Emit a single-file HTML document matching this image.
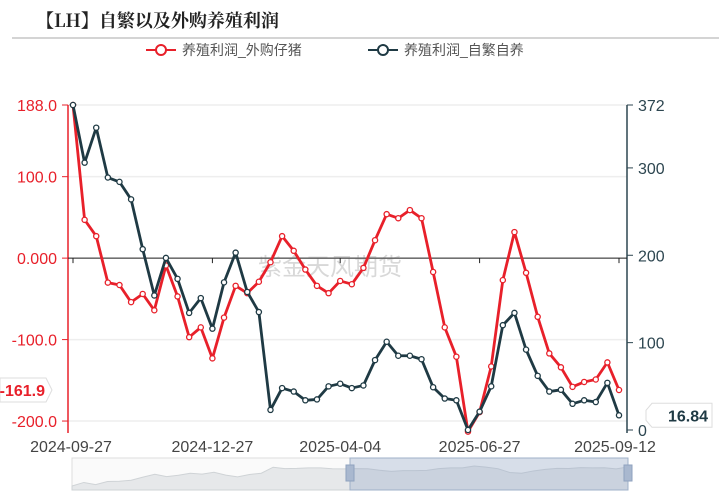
<!DOCTYPE html>
<html><head><meta charset="utf-8">
<style>
body{margin:0;background:#fff;width:719px;height:496px;overflow:hidden;font-family:"Liberation Sans","Noto Sans CJK SC",sans-serif;}
svg{position:absolute;left:0;top:0}
</style></head><body>
<svg id="c" width="719" height="496">
<text x="36" y="27" font-size="18" font-weight="bold" fill="#222" font-family="'Noto Serif CJK SC','Liberation Serif',serif">【LH】自繁以及外购养殖利润</text>
<line x1="12" y1="38" x2="719" y2="38" stroke="#bbb" stroke-width="1.2"/>
<g>
<line x1="146" y1="50" x2="176" y2="50" stroke="#e8202a" stroke-width="2"/><circle cx="161" cy="50" r="5" fill="#fff" stroke="#e8202a" stroke-width="2"/>
<text x="182" y="55" font-size="14" fill="#555">养殖利润_外购仔猪</text></g>
<g>
<line x1="368" y1="50" x2="398" y2="50" stroke="#1f3a44" stroke-width="2"/><circle cx="383" cy="50" r="5" fill="#fff" stroke="#1f3a44" stroke-width="2"/>
<text x="404" y="55" font-size="14" fill="#555">养殖利润_自繁自养</text></g>
<text x="258" y="275" font-size="24" fill="#d8d8d8">紫金天风期货</text>
<g id="g"></g>
</svg>
<script>
const categories=[];for(let i=0;i<48;i++)categories.push(i);
const tickLabels=["2024-09-27","2024-12-27","2025-04-04","2025-06-27","2025-09-12"];
const tickIdx=[0,12,23,35,47];
const leftTicks=[188,100,0,-100,-200];
const leftTickText=["188.0","100.0","0.000","-100.0","-200.0"];
const rightTicks=[372,300,200,100,0];
const redSeries=[188,47,27,-30,-33,-54,-44,-64,-9,-47,-97,-85,-123,-73,-34,-43,-29,-5,27,9,-14,-34,-43,-28,-32,-12,22,54,49,59,49,-17,-85,-121,-213,-189,-133,-27,32,-18,-72,-117,-134,-158,-152,-149,-128,-161.9];
const darkSeries=[372,306,346,289,284,264,207,154,197,173,134,151,116,169,203,158,135,23,48,44,34,35,50,53,48,51,80,101,85,85,81,49,36,34,0,21,50,120,134,92,62,44,46,30,34,32,54,16.84];
const X0=73,X1=619,TOP=105,BOT=430,LMIN=-211,LMAX=188,RMIN=0,RMAX=372;
const x=i=>X0+(X1-X0)*i/(categories.length-1);
const yl=v=>BOT-(v-LMIN)/(LMAX-LMIN)*(BOT-TOP);
const yr=v=>BOT-(v-RMIN)/(RMAX-RMIN)*(BOT-TOP);
const g=document.getElementById('g');const NS='http://www.w3.org/2000/svg';
function mk(t,a,p){const e=document.createElementNS(NS,t);for(const k in a)e.setAttribute(k,a[k]);(p||g).appendChild(e);return e;}
leftTicks.forEach((v,i)=>{
 const gl=mk('line',{x1:68,x2:627,y1:yl(v),y2:yl(v),stroke:'#eee','stroke-width':1.5});
 
 
 mk('line',{x1:62,x2:68,y1:yl(v),y2:yl(v),stroke:'#e8202a'});
 const t=mk('text',{x:57,y:yl(v)+6,'text-anchor':'end','font-size':16,fill:'#e8202a'});t.textContent=leftTickText[i];
 
 
});
rightTicks.forEach(v=>{
 mk('line',{x1:627,x2:633,y1:yr(v),y2:yr(v),stroke:'#2d4650'});
 const t=mk('text',{x:638,y:yr(v)+6,'font-size':16,fill:'#2d4650'});t.textContent=v;
 
 
});
const la=mk('line',{x1:68,x2:68,y1:TOP,y2:BOT+3,stroke:'#e8202a','stroke-width':1.5});


const ra=mk('line',{x1:627,x2:627,y1:TOP,y2:BOT+3,stroke:'#2d4650','stroke-width':1.5});


const z=mk('line',{x1:68,x2:627,y1:yl(0),y2:yl(0),stroke:'#222','stroke-width':1});


tickIdx.forEach((ix,i)=>{
 mk('line',{x1:x(ix),x2:x(ix),y1:yl(0),y2:yl(0)+5,stroke:'#222'});
 const t=mk('text',{x:x(ix),y:452,'text-anchor':'middle','font-size':16,fill:'#444'});t.textContent=tickLabels[i];
 if(i==0)t.setAttribute('x',x(ix)-2);
 if(i==4)t.setAttribute('x',x(ix)-4);
 
 
});
function series(vals,yf,col,name){
 const p=mk('polyline',{points:vals.map((v,i)=>x(i)+','+yf(v)).join(' '),fill:'none',stroke:col,'stroke-width':2.8,'stroke-linejoin':'round'});
 
 
 vals.forEach((v,i)=>{const c=mk('circle',{cx:x(i),cy:yf(v),r:2.6,fill:'#fff',stroke:col,'stroke-width':1.3});
 
 });
}
series(redSeries,yl,'#e8202a','red-series');
series(darkSeries,yr,'#1f3a44','dark-series');
const lr=redSeries[redSeries.length-1];
const lb=mk('path',{d:`M0 ${yl(lr)-12} H46 L52 ${yl(lr)} L46 ${yl(lr)+12} H0 Z`,fill:'#fff',stroke:'#ddd'});


const lt=mk('text',{x:45,y:yl(lr)+6,'text-anchor':'end','font-size':16,'font-weight':'bold',fill:'#e8202a'});lt.textContent=lr;


const dr=darkSeries[darkSeries.length-1];
const db=mk('path',{d:`M646 ${yr(dr)-5} L652 ${yr(dr)-12} H712 V${yr(dr)+12} H652 L646 ${yr(dr)+5} Z`,fill:'#fff',stroke:'#ddd'});


const dt=mk('text',{x:708,y:yr(dr)+6,'text-anchor':'end','font-size':16,'font-weight':'bold',fill:'#1f3a44'});dt.textContent=dr;


const sb=mk('rect',{x:72,y:458,width:556,height:32,fill:'#fafafa',stroke:'#ddd'});


const sx=i=>72+556*i/(categories.length-1);
mk('path',{d:'M72 490 '+darkSeries.map((v,i)=>'L'+sx(i)+' '+(486-(1-v/372)*20)).join(' ')+' L628 490 Z',fill:'#e6e8ea',stroke:'#cfd3d6'});
const sel=mk('rect',{x:350,y:458,width:278,height:32,fill:'rgba(150,170,200,0.35)',stroke:'#9fb0c8'});


[350,628].forEach(hx=>{const h=mk('rect',{x:hx-4,y:465,width:8,height:16,fill:'#a9b8cf',stroke:'#8fa2bf'});

});
</script>
</body></html>
